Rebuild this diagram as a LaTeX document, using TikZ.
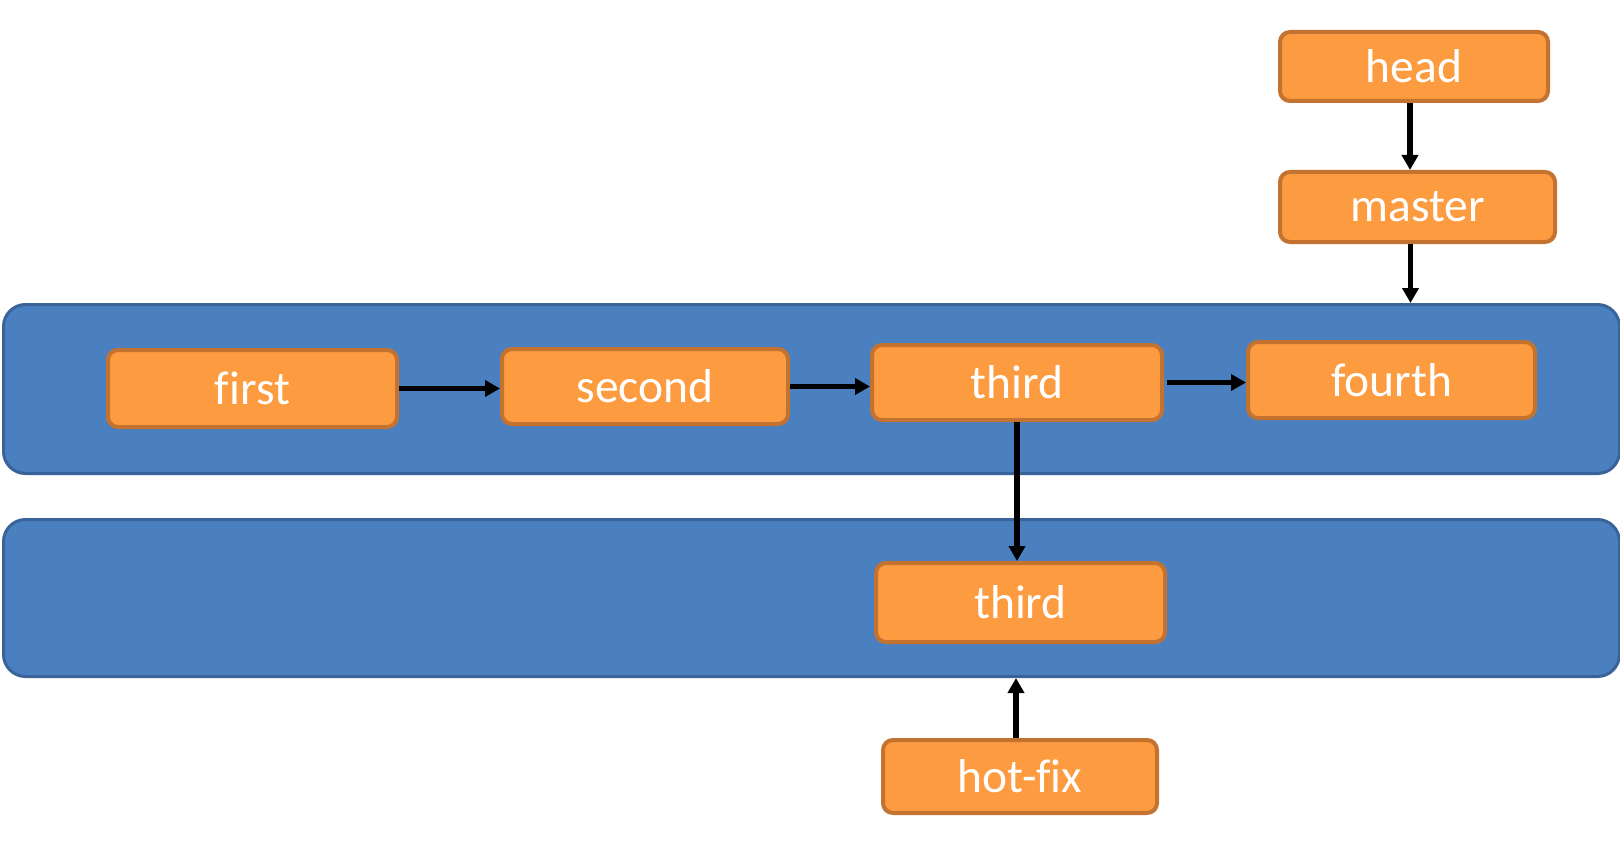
\documentclass[tikz,border=0pt]{standalone}
\usepackage{fontspec}
\setmainfont{Carlito}[Ligatures={NoCommon}]
\usetikzlibrary{arrows.meta}
\definecolor{bandfill}{HTML}{4A7FC0}
\definecolor{bandline}{HTML}{3A6499}
\definecolor{boxfill}{HTML}{FD9B40}
\definecolor{boxline}{HTML}{C47230}
\tikzset{
  band/.style={draw=bandline, fill=bandfill, line width=3pt, rounded corners=22pt, anchor=north west, inner sep=0pt},
  bx/.style={draw=boxline, fill=boxfill, line width=4pt, rounded corners=10pt, text=white, inner sep=0pt,
    font=\fontsize{47.5}{54}\selectfont},
  arr/.style={line width=5.5pt, -{Triangle[length=15pt,width=16pt]}}
}
\begin{document}
\begin{tikzpicture}[x=1pt,y=-1pt]
\useasboundingbox[fill=white] (0,0) rectangle (1620,848);
\node[band, minimum width=1616pt, minimum height=169pt] (band1) at (2,303) {};
\node[band, minimum width=1616pt, minimum height=157pt] (band2) at (2,518) {};
\node[bx, minimum width=268pt, minimum height=69pt] (head) at (1414,66.5) {head};
\node[bx, minimum width=275pt, minimum height=70pt] (master) at (1417.5,207) {master};
\node[bx, minimum width=289pt, minimum height=77pt] (first) at (252.5,388.5) {first};
\node[bx, minimum width=286pt, minimum height=75pt] (second) at (645,386.5) {second};
\node[bx, minimum width=290pt, minimum height=75pt] (third) at (1017,382.5) {third};
\node[bx, minimum width=287pt, minimum height=76pt] (fourth) at (1391.5,380) {fourth};
\node[bx, minimum width=289pt, minimum height=79pt] (thirdb) at (1020.5,602.5) {third};
\node[bx, minimum width=274pt, minimum height=73pt] (hotfix) at (1020,776.5) {hot-fix};
\draw[arr] ([xshift=-4pt]head.south) -- ([xshift=-4pt]head.south |- master.north);
\draw[arr] ([xshift=-7pt]master.south) -- ([xshift=-7pt]master.south |- band1.north);
\draw[arr] (first.east) -- (first.east -| second.west);
\draw[arr] (second.east) -- (second.east -| third.west);
\draw[arr] ([xshift=3pt]third.east) -- (third.east -| fourth.west);
\draw[arr] (third.south) -- (third.south |- thirdb.north);
\draw[arr] ([xshift=-4pt]hotfix.north) -- ([xshift=-4pt]hotfix.north |- band2.south);
\end{tikzpicture}
\end{document}
